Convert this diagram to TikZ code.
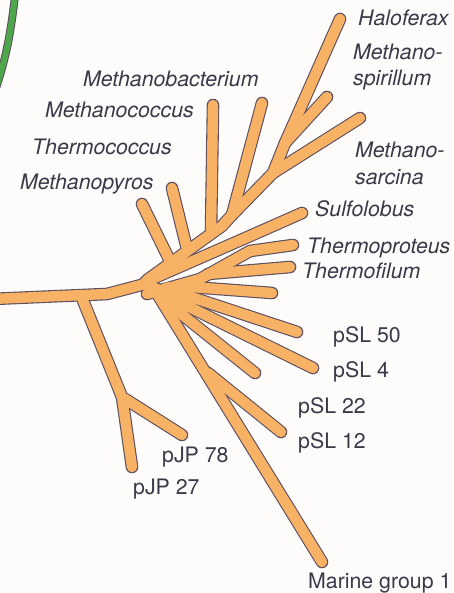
\documentclass[tikz,border=0pt]{standalone}
\usepackage{fontspec}
\setsansfont{TeX Gyre Heros}
\usepackage{xcolor}
\definecolor{twigorange}{HTML}{F8B266}
\definecolor{rimgray}{HTML}{5C4E5E}
\definecolor{labelink}{HTML}{3B3848}
\definecolor{leafgreen}{HTML}{4DA64A}
\definecolor{paper}{HTML}{FDFCFB}

\begin{document}
\begin{tikzpicture}[
  x=1pt, y=-1pt,
  rim/.style={draw=rimgray, line width=12.6pt, line cap=round, line join=round},
  twig/.style={draw=twigorange, line width=10.4pt, line cap=round, line join=round},
  taxon/.style={anchor=base west, inner sep=0pt, text=labelink,
                font=\sffamily\itshape\fontsize{21.3}{25}\selectfont},
  clone/.style={taxon, font=\sffamily\fontsize{21.3}{25}\selectfont}
]
  \useasboundingbox (0,0) rectangle (453,593);
  \fill[paper] (0,0) rectangle (453,593);
  \clip (0,0) rectangle (453,593);

  %% Green branch at the corner
  \draw[draw=rimgray, line width=8pt] (15,-4) .. controls (11,30) and (7,55) .. (-4,88);
  \draw[draw=leafgreen, line width=6pt] (15,-4) .. controls (11,30) and (7,55) .. (-4,88);

  %% Branch points and tips
  \coordinate (root) at (-8,299);
  \coordinate (t1) at (107,294);
  \coordinate (t2) at (145,284);
  \coordinate (hub) at (169,294);
  \coordinate (jpS) at (82,298);
  \coordinate (jpN) at (122,397);
  \coordinate (jp27) at (132,467);
  \coordinate (jp78) at (182,435);
  % Euryarchaeota
  \coordinate (eu0) at (147,280);
  \coordinate (eu1) at (222,226);
  \coordinate (eu2) at (232,215);
  \coordinate (eu3) at (273,173);
  \coordinate (eu4) at (285,143);
  \coordinate (mpyS) at (170,261);
  \coordinate (mpy) at (142,204);
  \coordinate (tcoS) at (187,249);
  \coordinate (tco) at (172,188);
  \coordinate (mcoS) at (211,233);
  \coordinate (mco) at (213,105);
  \coordinate (mba) at (262,103);
  \coordinate (hfx) at (340,19);
  \coordinate (msp) at (327,97);
  \coordinate (msa) at (360,118);
  % Crenarchaeota and clones
  \coordinate (cr0) at (145,282);
  \coordinate (cr1) at (250,236);
  \coordinate (sul) at (302,213);
  \coordinate (tpr0) at (147,294);
  \coordinate (tpr1) at (200,279);
  \coordinate (tpr2) at (250,251);
  \coordinate (tpr) at (293,245);
  \coordinate (tfiS) at (208,274);
  \coordinate (tfi) at (290,267);
  \coordinate (unaS) at (178,286);
  \coordinate (una) at (272,293);
  \coordinate (s50S) at (176,292);
  \coordinate (s50) at (297,332);
  \coordinate (s4S) at (175,300);
  \coordinate (s4) at (313,368);
  \coordinate (s22S) at (170,305);
  \coordinate (s22) at (255,373);
  \coordinate (marS) at (156,292);
  \coordinate (mar) at (322,562);
  \coordinate (s12S) at (208,373);
  \coordinate (s12) at (281,432);

  %% Tree: outline first, then the orange on top
  \foreach \lay in {rim,twig} {
    \draw[\lay] (root) -- (t1) -- (t2) -- (hub);
    \draw[\lay] (jpS) -- (jpN) -- (jp27);
    \draw[\lay] (jpN) -- (jp78);
    \draw[\lay] (eu0) -- (eu1) -- (eu2) -- (eu3) -- (eu4) -- (hfx);
    \draw[\lay] (mpyS) -- (mpy);
    \draw[\lay] (tcoS) -- (tco);
    \draw[\lay] (mcoS) -- (mco);
    \draw[\lay] (eu2) -- (mba);
    \draw[\lay] (eu4) -- (msp);
    \draw[\lay] (eu3) -- (msa);
    \draw[\lay] (cr0) -- (cr1) -- (sul);
    \draw[\lay] (tpr0) -- (tpr1) -- (tpr2) -- (tpr);
    \draw[\lay] (tfiS) -- (tfi);
    \draw[\lay] (unaS) -- (una);
    \draw[\lay] (s50S) -- (s50);
    \draw[\lay] (s4S) -- (s4);
    \draw[\lay] (s22S) -- (s22);
    \draw[\lay] (marS) -- (mar);
    \draw[\lay] (s12S) -- (s12);
  }
  \fill[twigorange] (hub) circle (12pt);

  %% Labels
  \node[taxon] (lhfx) at (358,26) {Haloferax};
  \node[taxon] (lmsp) at (353,60) {Methano-};
  \node[taxon] (lmspb) at (353,86) {spirillum};
  \node[taxon] (lmba) at (83,87) {Methanobacterium};
  \node[taxon] (lmco) at (45,118) {Methanococcus};
  \node[taxon] (ltco) at (32,155) {Thermococcus};
  \node[taxon] (lmpy) at (20,190) {Methanopyros};
  \node[taxon] (lmsa) at (355,158) {Methano-};
  \node[taxon] (lmsab) at (355,185) {sarcina};
  \node[taxon] (lsul) at (315,217) {Sulfolobus};
  \node[taxon] (ltpr) at (307,253) {Thermoproteus};
  \node[taxon] (ltfi) at (302,278) {Thermofilum};
  \node[clone] (ls50) at (333,342) {pSL 50};
  \node[clone] (ls4) at (333,377) {pSL 4};
  \node[clone] (ls22) at (298,413) {pSL 22};
  \node[clone] (ls12) at (298,448) {pSL 12};
  \node[clone] (ljp78) at (162,462) {pJP 78};
  \node[clone] (ljp27) at (133,494) {pJP 27};
  \node[clone] (lmar) at (308,588) {Marine group 1};
\end{tikzpicture}
\end{document}
